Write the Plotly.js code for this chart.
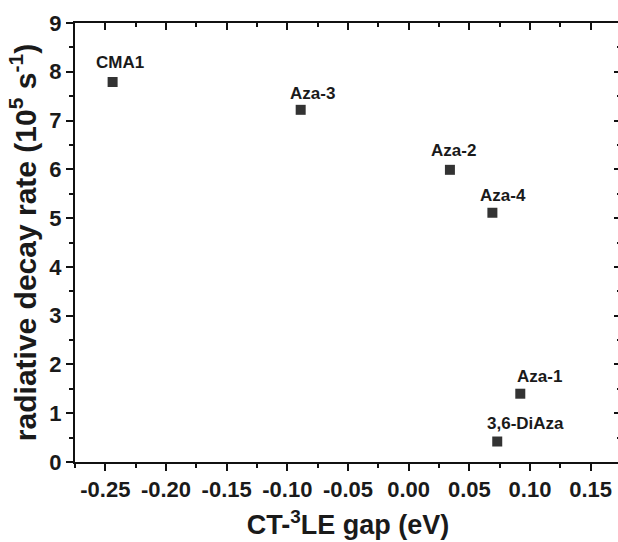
<!DOCTYPE html>
<html>
<head>
<meta charset="utf-8">
<script src="https://cdn.plot.ly/plotly-3.0.1.min.js"></script>
<style>
  html, body { margin: 0; padding: 0; background: #fff; overflow: hidden; }
  #chart { width: 630px; height: 542px; }
</style>
</head>
<body>
<div id="chart"></div>
<script>
// ---- data ----
const compounds = ["CMA1", "Aza-3", "Aza-2", "Aza-4", "Aza-1", "3,6-DiAza"];
const gapEV = [-0.244, -0.089, 0.034, 0.069, 0.092, 0.073];
const decayRate = [7.79, 7.22, 5.99, 5.11, 1.40, 0.42];
const xTickVals = [-0.25, -0.20, -0.15, -0.10, -0.05, 0.00, 0.05, 0.10, 0.15];
const xTickText = ["-0.25", "-0.20", "-0.15", "-0.10", "-0.05", "0.00", "0.05", "0.10", "0.15"];
const yTickVals = [0, 1, 2, 3, 4, 5, 6, 7, 8, 9];
const yTickText = ["0", "1", "2", "3", "4", "5", "6", "7", "8", "9"];

// label offsets (pixels) relative to each marker
const labelShiftX = [7, 12, 4, 11, 19, 28];
const labelShiftY = [20, 16, 19, 17, 17, 18];

const FONT = "Liberation Sans";
const TXT = "#1a1a1a";
const xRange = [-0.275, 0.175];
const yRange = [0, 9];

const traces = [
  {
    x: gapEV, y: decayRate, type: "scatter", mode: "markers",
    marker: { symbol: "square", size: 10, color: "#333333", line: { width: 0 } },
    hoverinfo: "skip", showlegend: false
  },
  {
    x: [xRange[0]], y: [yRange[0]], xaxis: "x2", yaxis: "y2",
    type: "scatter", mode: "markers", marker: { size: 1, opacity: 0 },
    hoverinfo: "skip", showlegend: false
  }
];

const annotations = compounds.map((c, i) => ({
  x: gapEV[i], y: decayRate[i], xref: "x", yref: "y",
  text: "<b>" + c + "</b>", showarrow: false, xanchor: "center", yanchor: "middle",
  xshift: labelShiftX[i], yshift: labelShiftY[i],
  font: { family: FONT, size: 17, color: TXT }
}));

const bold = arr => arr.map(t => "<b>" + t + "</b>");
const tickFont = { family: FONT, size: 22, color: TXT };

const layout = {
  width: 630, height: 542,
  margin: { l: 75, r: 9, t: 23, b: 80 },
  font: { family: FONT, color: TXT },
  paper_bgcolor: "#ffffff", plot_bgcolor: "#ffffff",
  showlegend: false,
  xaxis: {
    range: xRange, showgrid: false, zeroline: false,
    showline: true, linecolor: "#111", linewidth: 2,
    ticks: "outside", ticklen: 7, tickwidth: 2, tickcolor: "#111",
    tickmode: "array", tickvals: xTickVals, ticktext: bold(xTickText), tickfont: tickFont,
    minor: { dtick: 0.025, tick0: 0, ticks: "outside", ticklen: 4, tickwidth: 2, tickcolor: "#111", showgrid: false },
    title: { text: "<b>CT-<sup>3</sup>LE gap (eV)</b>", font: { family: FONT, size: 27, color: TXT }, standoff: 14 },
    fixedrange: true
  },
  yaxis: {
    range: yRange, showgrid: false, zeroline: false,
    showline: true, linecolor: "#111", linewidth: 2,
    ticks: "outside", ticklen: 7, tickwidth: 2, tickcolor: "#111",
    tickmode: "array", tickvals: yTickVals, ticktext: bold(yTickText), tickfont: tickFont,
    minor: { dtick: 0.5, tick0: 0, ticks: "outside", ticklen: 4, tickwidth: 2, tickcolor: "#111", showgrid: false },
    title: { text: "<b>radiative decay rate (10<sup>5</sup> s<sup>-1</sup>)</b>", font: { family: FONT, size: 30, color: TXT }, standoff: 4 },
    fixedrange: true
  },
  xaxis2: {
    range: xRange, overlaying: "x", side: "top", anchor: "y",
    showgrid: false, zeroline: false, showline: true, linecolor: "#111", linewidth: 2,
    ticks: "inside", ticklen: 7, tickwidth: 2, tickcolor: "#111",
    tickmode: "array", tickvals: xTickVals, showticklabels: false,
    minor: { dtick: 0.025, tick0: 0, ticks: "inside", ticklen: 4, tickwidth: 2, tickcolor: "#111", showgrid: false },
    fixedrange: true
  },
  yaxis2: {
    range: yRange, overlaying: "y", side: "right", anchor: "x",
    showgrid: false, zeroline: false, showline: true, linecolor: "#111", linewidth: 2,
    ticks: "inside", ticklen: 7, tickwidth: 2, tickcolor: "#111",
    tickmode: "array", tickvals: yTickVals, showticklabels: false,
    minor: { dtick: 0.5, tick0: 0, ticks: "inside", ticklen: 4, tickwidth: 2, tickcolor: "#111", showgrid: false },
    fixedrange: true
  },
  annotations: annotations
};

Plotly.newPlot("chart", traces, layout, { displayModeBar: false, staticPlot: true });
</script>
</body>
</html>
